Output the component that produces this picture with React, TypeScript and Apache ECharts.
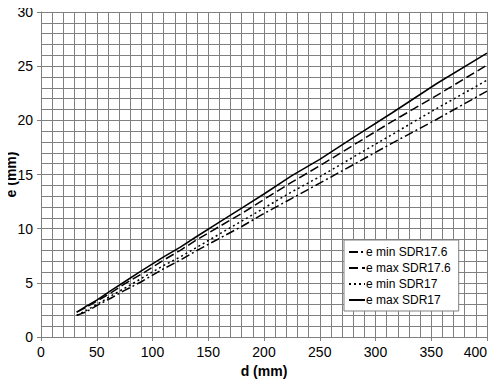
import React, { useEffect, useRef } from "react";
import * as echarts from "echarts";

const diameters = [32, 40, 50, 63, 75, 90, 110, 125, 140, 160, 180, 200, 225, 250, 280, 315, 355, 400];
const eMinSDR176 = [2.0, 2.3, 2.9, 3.6, 4.3, 5.1, 6.3, 7.1, 8.0, 9.1, 10.2, 11.4, 12.8, 14.2, 15.9, 17.9, 20.1, 22.7];
const eMaxSDR176 = [2.3, 2.7, 3.3, 4.1, 4.9, 5.8, 7.1, 8.0, 9.0, 10.2, 11.4, 12.7, 14.3, 15.8, 17.7, 19.9, 22.3, 25.1];
const eMinSDR17 = [2.0, 2.4, 3.0, 3.8, 4.5, 5.4, 6.6, 7.4, 8.3, 9.5, 10.7, 11.9, 13.4, 14.8, 16.6, 18.7, 21.1, 23.7];
const eMaxSDR17 = [2.3, 2.8, 3.4, 4.3, 5.1, 6.1, 7.4, 8.3, 9.3, 10.6, 11.9, 13.2, 14.9, 16.4, 18.4, 20.7, 23.4, 26.2];
const seriesNames = ["e min SDR17.6", "e max SDR17.6", "e min SDR17", "e max SDR17"];

export default function App() {
  const ref = useRef<HTMLDivElement>(null);
  useEffect(() => {
    if (!ref.current) return;
    const chart = echarts.init(ref.current, undefined, { renderer: "svg" });
    const pair = (ys: number[]) => diameters.map((d, i) => [d, ys[i]]);
    const dashes: any[] = [[9, 3, 2, 3], [9, 4], [2, 3], "solid"];
    const datas = [eMinSDR176, eMaxSDR176, eMinSDR17, eMaxSDR17];
    const font = "Liberation Sans, Arial, sans-serif";
    chart.setOption({
      animation: false,
      backgroundColor: "#ffffff",
      grid: { left: 41, right: 13, top: 12, bottom: 53, containLabel: false, outerBoundsMode: "none" },
      legend: {
        orient: "vertical",
        left: 344,
        top: 240,
        padding: [6, 8, 5, 4],
        itemGap: 4,
        itemWidth: 16,
        itemHeight: 12,
        borderColor: "#808080",
        borderWidth: 1,
        backgroundColor: "#ffffff",
        itemStyle: { color: "rgba(0,0,0,0)", borderWidth: 0 },
        textStyle: { fontFamily: font, fontSize: 12, color: "#000", padding: [0, 0, 0, -4] },
        data: seriesNames,
      },
      xAxis: {
        type: "value",
        min: 0,
        max: 400,
        interval: 50,
        name: "d (mm)",
        nameLocation: "middle",
        nameGap: 27,
        nameMoveOverlap: false,
        nameTextStyle: { fontFamily: font, fontSize: 14, fontWeight: "bold", color: "#000" },
        axisLine: { show: true, lineStyle: { color: "#808080" } },
        axisTick: { show: true, length: 4, lineStyle: { color: "#808080" } },
        axisLabel: { fontFamily: font, fontSize: 14, color: "#000", margin: 8, showMaxLabel: true, showMinLabel: true, hideOverlap: false, alignMaxLabel: "right" },
        splitLine: { show: true, lineStyle: { color: "#808080", width: 1 } },
        minorTick: { show: false, splitNumber: 5 },
        minorSplitLine: { show: true, lineStyle: { color: "#808080", width: 1 } },
      },
      yAxis: {
        type: "value",
        min: 0,
        max: 30,
        interval: 5,
        name: "e (mm)",
        nameLocation: "middle",
        nameGap: 23,
        nameMoveOverlap: false,
        nameTextStyle: { fontFamily: font, fontSize: 14, fontWeight: "bold", color: "#000" },
        axisLine: { show: true, lineStyle: { color: "#808080" } },
        axisTick: { show: true, length: 4, lineStyle: { color: "#808080" } },
        axisLabel: { fontFamily: font, fontSize: 14, color: "#000", margin: 8 },
        splitLine: { show: true, lineStyle: { color: "#808080", width: 1 } },
        minorTick: { show: false, splitNumber: 5 },
        minorSplitLine: { show: true, lineStyle: { color: "#808080", width: 1 } },
      },
      series: seriesNames.map((n, i) => ({
        name: n,
        type: "line",
        data: pair(datas[i]),
        symbol: "none",
        showSymbol: false,
        color: "#000",
        lineStyle: { color: "#000", width: 1.5, type: dashes[i] },
      })),
    });
    return () => chart.dispose();
  }, []);
  return <div ref={ref} style={{ width: 500, height: 390, margin: -8 }} />;
}
